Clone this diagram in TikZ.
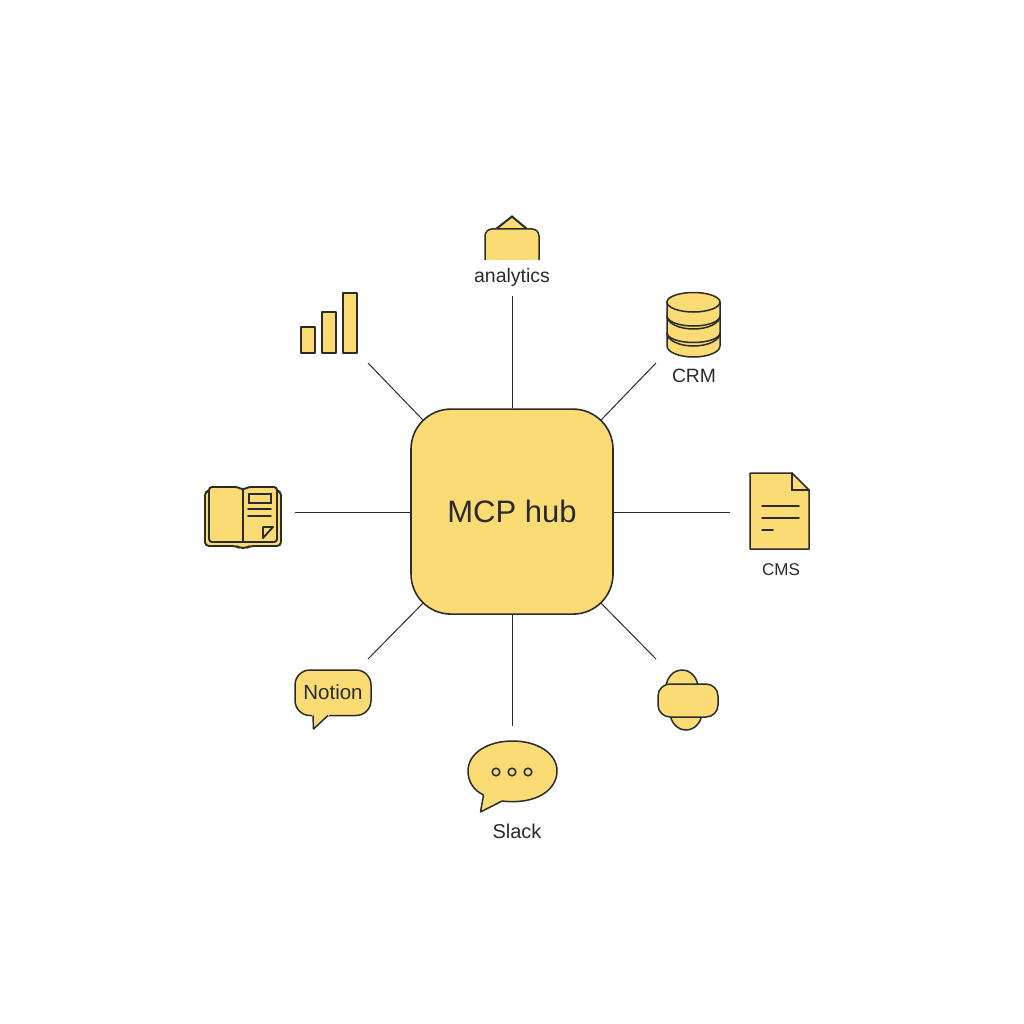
\documentclass[tikz,border=0pt]{standalone}
\usepackage{fontspec}
\usetikzlibrary{calc}
\setmainfont{Liberation Sans}
\definecolor{ink}{HTML}{2B2B2B}
\definecolor{honey}{HTML}{FBDB74}
\newcommand{\fsz}[1]{\fontsize{#1}{#1}\selectfont}
\tikzset{
  icon/.style={draw=ink,fill=honey,line width=1.5pt,line join=round},
  detail/.style={draw=ink,line width=1.5pt,line cap=round},
  bookline/.style={draw=ink,line width=1.9pt,line cap=round},
  link/.style={draw=ink,line width=1pt},
  hubbox/.style={draw=ink,fill=honey,line width=1.6pt,rectangle,rounded corners=40pt,minimum width=202pt,minimum height=205pt,inner sep=0pt,text=ink},
  lab/.style={text=ink,inner sep=0pt,anchor=center}
}
\begin{document}
\begin{tikzpicture}[x=1pt,y=-1pt]
\useasboundingbox (0,0) rectangle (1024,1024);
\fill[white] (0,0) rectangle (1024,1024);
% hub and connectors
\coordinate (endN) at (512,296);
\coordinate (endS) at (512,726);
\coordinate (endW) at (295,512);
\coordinate (endE) at (730,512);
\coordinate (endNE) at (656,363);
\coordinate (endNW) at (368,363);
\coordinate (endSE) at (656,659);
\coordinate (endSW) at (368,659);
\node[hubbox] (hub) at (512,511.6) {\raisebox{0.6pt}{\fsz{31}MCP hub}};
\draw[link] (hub.north) -- (endN);
\draw[link] (hub.south) -- (endS);
\draw[link] (hub.west |- endW) -- (endW);
\draw[link] (hub.east |- endE) -- (endE);
\draw[link] ($(hub.north east)+(-13,12)$) -- (endNE);
\draw[link] ($(hub.north west)+(13,12)$) -- (endNW);
\draw[link] ($(hub.south east)+(-13,-12)$) -- (endSE);
\draw[link] ($(hub.south west)+(13,-12)$) -- (endSW);
% analytics icon
\fill[honey] (496,229) -- (512,216.5) -- (527,229) -- cycle;
\draw[detail,line width=2pt,line join=miter,line cap=butt] (496,229) -- (512,216.5) -- (527,229);
\fill[honey,rounded corners=7pt] (485,265) -- (485,229) -- (539,229) -- (539,265) -- cycle;
\fill[white] (480,260) rectangle (544,267);
\draw[detail,line cap=butt,rounded corners=7pt] (485,260) -- (485,229) -- (539,229) -- (539,260);
\node[lab] (analytics) at (512,277) {\fsz{19.5}analytics};
% bars icon
\draw[icon] (301,327) rectangle (315,353);
\draw[icon] (322,312) rectangle (336,353);
\draw[icon] (343,293) rectangle (357,353);
% database icon
\draw[icon] (667,302) -- (667,346) arc[start angle=180,end angle=0,x radius=26.5,y radius=11] -- (720,302) arc[start angle=0,end angle=-180,x radius=26.5,y radius=9.5] -- cycle;
\draw[detail] (667,302) arc[start angle=180,end angle=0,x radius=26.5,y radius=10];
\draw[detail] (667,316) arc[start angle=180,end angle=0,x radius=26.5,y radius=10];
\draw[detail] (667,316) arc[start angle=180,end angle=0,x radius=26.5,y radius=13];
\draw[detail] (667,333) arc[start angle=180,end angle=0,x radius=26.5,y radius=9.5];
\draw[detail] (667,333) arc[start angle=180,end angle=0,x radius=26.5,y radius=13];
\node[lab] (crm) at (694,376) {\fsz{19.3}CRM};
% document icon
\draw[icon] (750,473) -- (792,473) -- (809,490) -- (809,549) -- (750,549) -- cycle;
\draw[detail] (792,473) -- (792,490) -- (809,490);
\draw[detail] (762,506) -- (799,506);
\draw[detail] (762,518) -- (799,518);
\draw[detail] (762,530) -- (773,530);
\node[lab] (cms) at (781,570) {\fsz{17}CMS};
% puzzle icon
\draw[icon] (682,688) ellipse[x radius=16,y radius=18];
\draw[icon] (686,712) ellipse[x radius=16,y radius=18];
\draw[icon,rounded corners=12pt] (658,684) rectangle (718,717);
% slack icon
\draw[icon] (483.5,795) -- (480.5,812) -- (502,801) .. controls (536,805) and (557,790) .. (557,771)
  .. controls (557,753) and (537,741) .. (512.5,741) .. controls (488,741) and (468,753) .. (468,771)
  .. controls (468,781) and (473,790) .. (483.5,795) -- cycle;
\draw[detail] (496,772) circle[radius=3.8];
\draw[detail] (512,772) circle[radius=3.8];
\draw[detail] (528,772) circle[radius=3.8];
\node[lab] (slack) at (517,831) {\fsz{20}Slack};
% notion icon
\draw[icon,rounded corners=15pt] (295,670) -- (371,670) -- (371,715.5) -- (295,715.5) -- cycle;
\fill[honey] (312,713) rectangle (329,716.5);
\draw[icon] (313,715.5) -- (313.5,729) -- (328,715.5);
\fill[honey] (314.2,713.5) -- (326,713.5) -- (314.5,724) -- cycle;
\node[lab] (notion) at (333,692) {\fsz{20.5}Notion};
% book icon
\draw[bookline,fill=honey,rounded corners=4pt] (207,491) -- (205,491) -- (205,546) -- (236,546) -- (240,548) -- (246,548) -- (250,546) -- (281,546) -- (281,491) -- (279,491);
\draw[bookline,fill=honey,rounded corners=3pt] (225,487) -- (238,487) -- (243,490) -- (248,487) -- (277,487) -- (277,542) -- (209,542) -- (209,487) -- cycle;
\draw[bookline] (243,490) -- (243,542);
\draw[bookline] (249,494) rectangle (271,503);
\draw[bookline] (248,509) -- (271,509);
\draw[bookline] (248,516) -- (271,516);
\draw[bookline,line join=round] (263,527) -- (273,527) -- (263,538) -- cycle;
\end{tikzpicture}
\end{document}
